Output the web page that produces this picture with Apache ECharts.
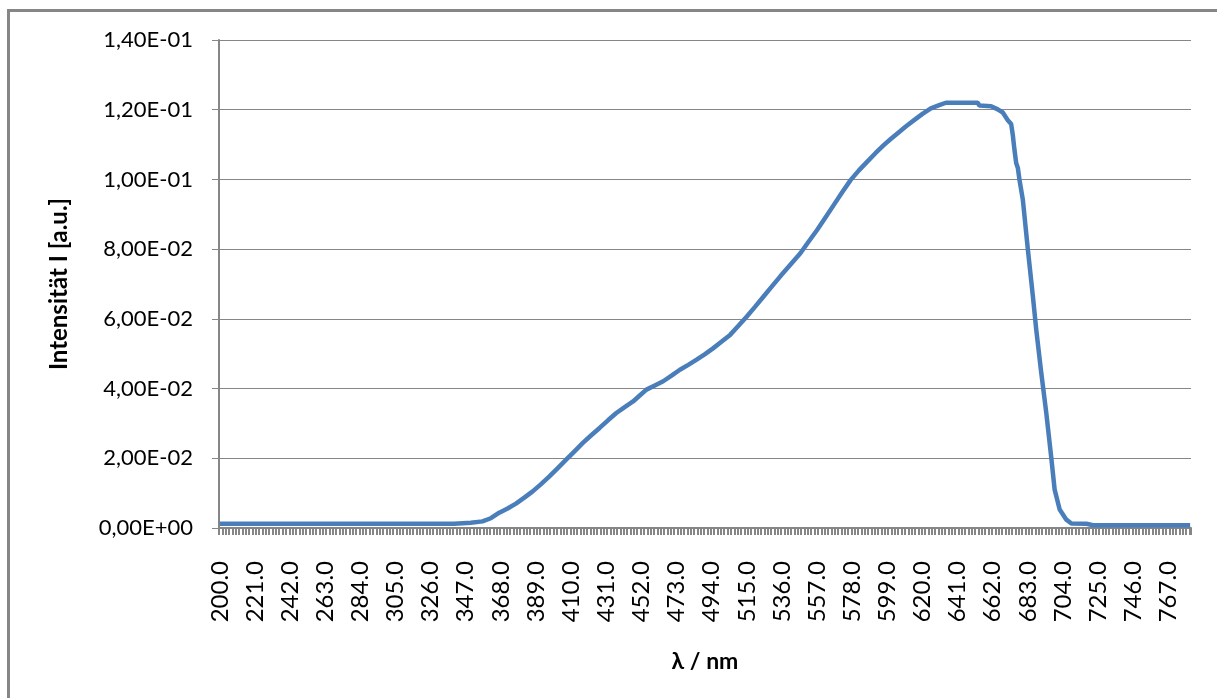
<!DOCTYPE html>
<html>
<head>
<meta charset="utf-8">
<script src="https://cdn.jsdelivr.net/npm/echarts@6/dist/echarts.min.js"></script>
<style>
html,body{margin:0;padding:0;background:#fff;}
#chart{width:1217px;height:698px;}
</style>
</head>
<body>
<div id="chart"></div>
<script>
// Wavelength categories (nm), one per step of 1 nm
var firstWavelength = 200;
var lastWavelength = 780;
var categories = [];
for (var w = firstWavelength; w <= lastWavelength; w++) categories.push(w.toFixed(1));

var wavelengths = [200, 340, 350, 357, 362, 367, 372, 377, 382, 387, 392, 397, 402, 407, 412, 417, 422, 427, 432, 437,
  442, 447, 451, 455, 460, 465, 470, 475, 480, 485, 490, 495, 500, 505, 510, 515, 520, 525, 530, 535,
  541, 547, 552, 557, 562, 567, 572, 577, 582, 587, 592, 597, 601, 605, 610, 615, 620, 625, 630, 634,
  653, 654, 661, 662, 665, 668, 671, 673, 674, 675, 676, 677, 678, 680, 683, 686, 688, 691, 694, 697,
  699, 702, 706, 709, 718, 722, 780];
var intensity = [0.0012, 0.0012, 0.0015, 0.0019, 0.0028, 0.0044, 0.0056, 0.0070, 0.0087, 0.0105, 0.0126, 0.0148, 0.0172, 0.0196, 0.0220, 0.0244, 0.0266, 0.0287, 0.0309, 0.0330,
  0.0347, 0.0363, 0.0380, 0.0397, 0.0409, 0.0421, 0.0437, 0.0454, 0.0468, 0.0483, 0.0499, 0.0516, 0.0535, 0.0554, 0.0580, 0.0607, 0.0635, 0.0664, 0.0693, 0.0722,
  0.0755, 0.0788, 0.0822, 0.0855, 0.0891, 0.0927, 0.0963, 0.0998, 0.1026, 0.1051, 0.1076, 0.1099, 0.1116, 0.1132, 0.1152, 0.1170, 0.1188, 0.1204, 0.1213, 0.1220,
  0.1220, 0.1212, 0.1210, 0.1207, 0.1201, 0.1192, 0.1170, 0.1159, 0.1127, 0.1084, 0.1047, 0.1033, 0.0998, 0.0941, 0.0798, 0.0664, 0.0569, 0.0445, 0.0330, 0.0201,
  0.0110, 0.0053, 0.0024, 0.0013, 0.0012, 0.0008, 0.0008];

var yTickMin = 0, yTickMax = 0.14, yTickStep = 0.02;

var seriesData = wavelengths.map(function (wl, i) { return [wl - firstWavelength, intensity[i]]; });

function sciLabel(v) {
  var s = Number(v).toExponential(2);
  var parts = s.split('e');
  var mant = parts[0].replace('.', ',');
  var exp = parseInt(parts[1], 10);
  var sign = exp < 0 ? '-' : '+';
  var e = Math.abs(exp);
  return mant + 'E' + sign + (e < 10 ? '0' + e : '' + e);
}

var chart = echarts.init(document.getElementById('chart'), null, {renderer: 'canvas'});
var grey = '#868686';
var font = 'Lato';
chart.setOption({
  animation: false,
  backgroundColor: '#ffffff',
  graphic: [{
    type: 'rect',
    shape: {x: 8.5, y: 10.5, width: 1400, height: 900},
    style: {fill: 'none', stroke: grey, lineWidth: 3},
    silent: true
  }],
  grid: {left: 219, top: 40, right: 26, bottom: 170, containLabel: false},
  xAxis: {
    type: 'category',
    data: categories,
    boundaryGap: true,
    name: 'λ / nm',
    nameLocation: 'middle',
    nameGap: 122,
    nameTextStyle: {fontFamily: font, fontWeight: 'bold', fontSize: 23, color: '#000'},
    axisLine: {lineStyle: {color: grey, width: 2}},
    axisTick: {show: true, interval: 1, length: 7, lineStyle: {color: grey, width: 2}},
    axisLabel: {interval: 20, rotate: 90, margin: 33, fontFamily: font, fontSize: 24, color: '#000'},
    splitLine: {show: false}
  },
  yAxis: {
    type: 'value',
    min: yTickMin,
    max: yTickMax,
    interval: yTickStep,
    name: 'Intensität I [a.u.]',
    nameLocation: 'middle',
    nameGap: 148,
    nameRotate: 90,
    nameTextStyle: {fontFamily: font, fontWeight: 'bold', fontSize: 24, color: '#000'},
    axisLine: {show: true, lineStyle: {color: grey, width: 2}},
    axisTick: {show: true, length: 7, lineStyle: {color: grey, width: 1}},
    axisLabel: {margin: 26, fontFamily: font, fontSize: 22, color: '#000', formatter: sciLabel},
    splitLine: {show: true, lineStyle: {color: grey, width: 1}}
  },
  series: [{
    type: 'line',
    data: seriesData,
    showSymbol: false,
    symbol: 'none',
    lineStyle: {color: '#4A7EBB', width: 4.5},
    itemStyle: {color: '#4A7EBB'}
  }]
});
</script>
</body>
</html>
